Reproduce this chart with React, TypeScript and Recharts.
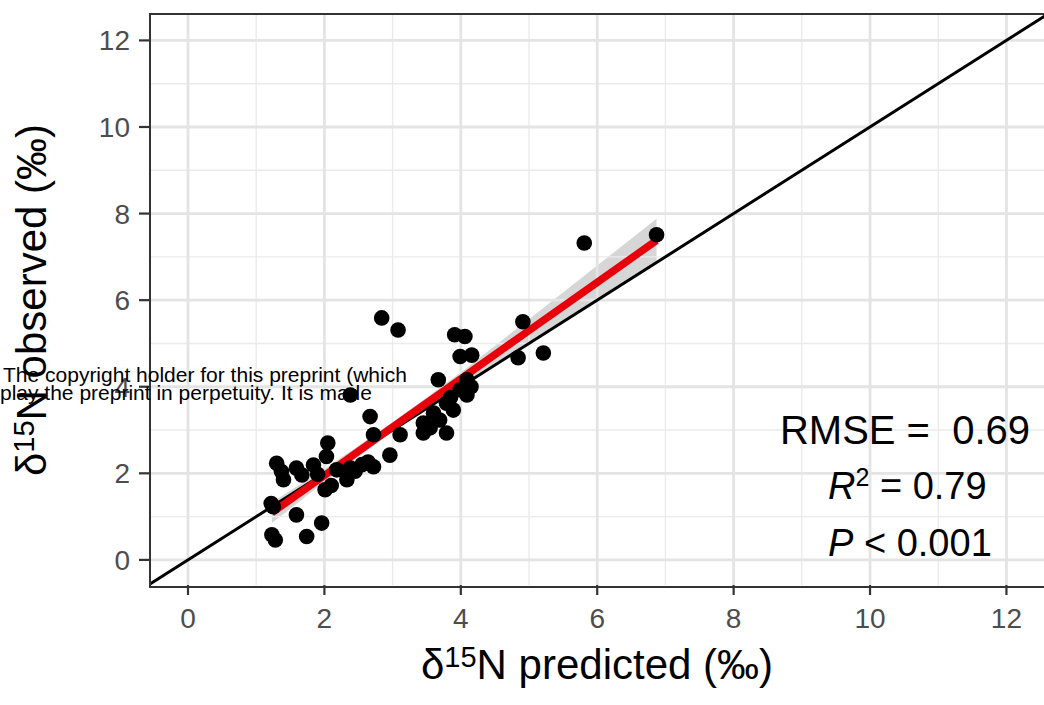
import React from 'react';
import {
  ComposedChart,
  Scatter,
  Line,
  Area,
  XAxis,
  YAxis,
  ReferenceLine,
} from 'recharts';

const predicted = [
  6.87, 5.81, 2.84, 3.08, 4.91, 5.21, 4.84, 3.91, 4.06, 3.99, 4.16, 3.67, 4.09, 3.99,
  4.09, 3.79, 3.89, 3.6, 3.45, 3.69, 3.45, 3.79, 3.11, 2.38, 2.67, 2.72, 2.96, 2.05,
  2.72, 2.64, 2.03, 2.18, 2.33, 2.38, 2.01, 1.84, 1.59, 1.67, 1.37, 1.3, 1.4, 1.25,
  1.59, 1.96, 1.23, 1.28, 1.74, 1.22, 1.9, 2.1, 2.45, 2.55, 3.55, 3.85, 4.15,
];
const observed = [
  7.51, 7.32, 5.59, 5.31, 5.5, 4.78, 4.67, 5.2, 5.16, 4.7, 4.73, 4.16, 4.16, 3.93,
  3.81, 3.62, 3.46, 3.39, 3.16, 3.23, 2.93, 2.93, 2.89, 3.81, 3.31, 2.89, 2.42, 2.7,
  2.15, 2.26, 2.39, 2.08, 1.85, 2.12, 1.62, 2.19, 2.12, 1.96, 2.04, 2.23, 1.85, 1.23,
  1.04, 0.85, 0.58, 0.46, 0.54, 1.3, 1.98, 1.72, 2.05, 2.2, 3.05, 3.75, 4.0,
];

// linear fit and its confidence band
const fitX = [1.23, 2, 3, 4, 5, 6, 6.87];
const fitY = [1.09, 1.95, 3.07, 4.18, 5.3, 6.41, 7.38];
const ciLow = [0.85, 1.8, 2.96, 4.03, 5.04, 6.02, 6.88];
const ciHigh = [1.33, 2.1, 3.18, 4.33, 5.56, 6.8, 7.88];

const majorBreaks = [0, 2, 4, 6, 8, 10, 12];
const minorBreaks = [1, 3, 5, 7, 9, 11];
const xLimits: [number, number] = [-0.557, 12.58];
const yLimits: [number, number] = [-0.58, 12.61];

const points = predicted.map((x, i) => ({ x, y: observed[i] }));
const fitRows = fitX.map((x, i) => ({ x, fit: fitY[i], band: [ciLow[i], ciHigh[i]] }));

const font = '"Liberation Sans", Arial, Helvetica, sans-serif';
const TICK_SIZE = 28;

const Dot = (p: any) => <circle cx={p.cx} cy={p.cy} r={7.8} fill="#000" />;

const XTick = ({ x, y, payload }: any) => (
  <text x={x} y={y} dy="0.72em" textAnchor="middle" fontSize={TICK_SIZE} fontFamily={font} fill="#4d4d4d">
    {payload.value}
  </text>
);

const YTick = ({ x, y, payload }: any) => (
  <text x={x} y={y} dy="0.36em" textAnchor="end" fontSize={TICK_SIZE} fontFamily={font} fill="#4d4d4d">
    {payload.value}
  </text>
);

const supStyle: React.CSSProperties = { fontSize: 29, verticalAlign: 'top', position: 'relative', top: -8 };

export default function App() {
  return (
    <div
      style={{
        position: 'absolute',
        left: 0,
        top: 0,
        width: 1044,
        height: 705,
        overflow: 'hidden',
        background: '#fff',
        fontFamily: font,
      }}
    >
      <ComposedChart
        width={1050}
        height={705}
        data={fitRows}
        margin={{ top: 14, right: 4, bottom: 0, left: 0 }}
      >
        {minorBreaks.map((v) => (
          <ReferenceLine key={`mx${v}`} x={v} stroke="#ebebeb" strokeWidth={1.4} />
        ))}
        {minorBreaks.map((v) => (
          <ReferenceLine key={`my${v}`} y={v} stroke="#ebebeb" strokeWidth={1.4} />
        ))}
        {majorBreaks.map((v) => (
          <ReferenceLine key={`gx${v}`} x={v} stroke="#e4e4e4" strokeWidth={2.8} />
        ))}
        {majorBreaks.map((v) => (
          <ReferenceLine key={`gy${v}`} y={v} stroke="#e4e4e4" strokeWidth={2.8} />
        ))}
        <XAxis
          type="number"
          dataKey="x"
          domain={xLimits}
          ticks={majorBreaks}
          allowDataOverflow
          height={120}
          axisLine={false}
          tickSize={10}
          tickMargin={13}
          tickLine={{ stroke: '#333', strokeWidth: 2.2 }}
          tick={<XTick />}
        />
        <YAxis
          type="number"
          dataKey="y"
          domain={yLimits}
          ticks={majorBreaks}
          allowDataOverflow
          width={150}
          axisLine={false}
          tickSize={11}
          tickMargin={9}
          tickLine={{ stroke: '#333', strokeWidth: 2.2 }}
          tick={<YTick />}
        />
        <Scatter data={points} shape={Dot} isAnimationActive={false} />
        <ReferenceLine
          segment={[
            { x: xLimits[0], y: xLimits[0] },
            { x: xLimits[1], y: xLimits[1] },
          ]}
          stroke="#000"
          strokeWidth={3}
        />
        <Area
          dataKey="band"
          type="linear"
          stroke="none"
          fill="#999999"
          fillOpacity={0.4}
          isAnimationActive={false}
        />
        <Line
          dataKey="fit"
          type="linear"
          stroke="#e8000b"
          strokeWidth={7.5}
          dot={false}
          isAnimationActive={false}
        />
      </ComposedChart>

      {/* panel border */}
      <div
        style={{
          position: 'absolute',
          left: 149,
          top: 13,
          width: 910,
          height: 571,
          border: '2px solid #333',
          pointerEvents: 'none',
        }}
      />

      {/* axis titles */}
      <div
        style={{
          position: 'absolute',
          left: 347,
          width: 500,
          top: 638,
          textAlign: 'center',
          fontSize: 42,
          lineHeight: '54px',
          color: '#000',
          whiteSpace: 'nowrap',
        }}
      >
        δ<sup style={supStyle}>15</sup>N predicted (‰)
      </div>
      <div
        style={{
          position: 'absolute',
          left: 32 - 250,
          top: 300 - 27,
          width: 500,
          textAlign: 'center',
          fontSize: 42,
          lineHeight: '54px',
          color: '#000',
          whiteSpace: 'nowrap',
          transform: 'rotate(-90deg)',
        }}
      >
        δ<sup style={supStyle}>15</sup>N observed (‰)
      </div>

      {/* fit statistics */}
      <div style={{ position: 'absolute', left: 760, width: 290, top: 405, textAlign: 'center', fontSize: 40, lineHeight: '50px', whiteSpace: 'pre' }}>
        {'RMSE =  0.69'}
      </div>
      <div style={{ position: 'absolute', left: 828, top: 462, fontSize: 38, lineHeight: '48px', whiteSpace: 'nowrap' }}>
        <i>R</i>
        <sup style={{ fontSize: 25, verticalAlign: 'top', position: 'relative', top: -9 }}>2</sup> = 0.79
      </div>
      <div style={{ position: 'absolute', left: 828, top: 519, fontSize: 38, lineHeight: '48px', whiteSpace: 'nowrap' }}>
        <i>P</i> &lt; 0.001
      </div>

      {/* preprint watermark text */}
      <div style={{ position: 'absolute', left: 3, top: 363, fontSize: 21, lineHeight: '24px', color: '#000', whiteSpace: 'nowrap' }}>
        The copyright holder for this preprint (which
      </div>
      <div style={{ position: 'absolute', left: 0, top: 381, fontSize: 21, lineHeight: '24px', color: '#000', whiteSpace: 'nowrap' }}>
        play the preprint in perpetuity. It is made
      </div>
    </div>
  );
}
